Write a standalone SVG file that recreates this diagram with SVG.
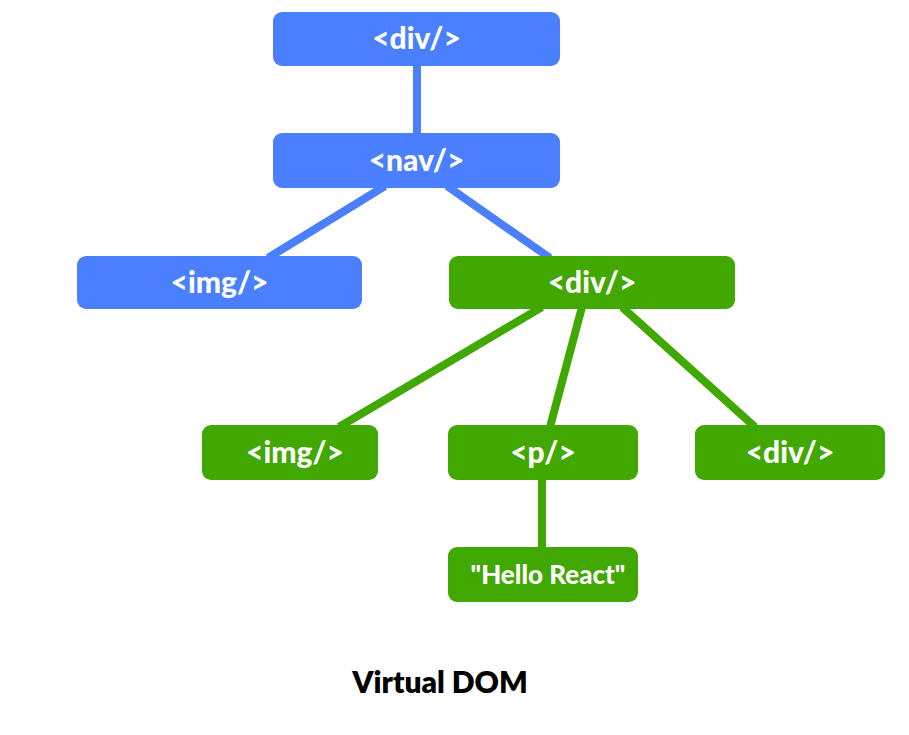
<svg xmlns="http://www.w3.org/2000/svg" width="909" height="735" viewBox="0 0 909 735">
<style>
.b{fill:#4A80FF}
.g{fill:#40A800}
.lb{stroke:#4A80FF;stroke-width:8;fill:none}
.lg{stroke:#40A800;stroke-width:8;fill:none}
text{font-family:Lato,"Noto Sans",sans-serif;font-weight:900;text-anchor:middle}
.t{fill:#fff;font-size:30px}
.s{font-size:26px}
.cap{fill:#000;font-size:30px;font-weight:800}
</style>
<rect width="909" height="735" fill="#fff"/>
<g id="connectors">
<line class="lb" x1="417" y1="66" x2="417" y2="133"/>
<line class="lb" x1="385" y1="186" x2="268" y2="258"/>
<line class="lb" x1="447" y1="186" x2="550" y2="258"/>
<line class="lg" x1="542" y1="307" x2="339" y2="427"/>
<line class="lg" x1="582" y1="307" x2="550" y2="427"/>
<line class="lg" x1="622" y1="307" x2="755" y2="427"/>
<line class="lg" x1="542" y1="478" x2="542" y2="549"/>
</g>
<g id="div-root"><rect class="b" x="273" y="12" width="287" height="54" rx="9"/><text class="t" x="416.5" y="49">&lt;div/&gt;</text></g>
<g id="nav"><rect class="b" x="273" y="133" width="287" height="55" rx="9"/><text class="t" x="416.5" y="171">&lt;nav/&gt;</text></g>
<g id="img-blue"><rect class="b" x="77" y="256" width="285" height="53" rx="9"/><text class="t" x="219.5" y="293">&lt;img/&gt;</text></g>
<g id="div-green"><rect class="g" x="449" y="256" width="286" height="53" rx="9"/><text class="t" x="592" y="293">&lt;div/&gt;</text></g>
<g id="img-green"><rect class="g" x="202" y="425" width="176" height="55" rx="9"/><text class="t" x="295" y="463">&lt;img/&gt;</text></g>
<g id="p"><rect class="g" x="448" y="425" width="190" height="55" rx="9"/><text class="t" x="543" y="463">&lt;p/&gt;</text></g>
<g id="div-right"><rect class="g" x="695" y="425" width="190" height="55" rx="9"/><text class="t" x="790" y="463">&lt;div/&gt;</text></g>
<g id="hello"><rect class="g" x="448" y="547" width="190" height="55" rx="9"/><text class="t s" x="548" y="584">"Hello React"</text></g>
<text class="cap" x="440" y="693">Virtual DOM</text>
</svg>
